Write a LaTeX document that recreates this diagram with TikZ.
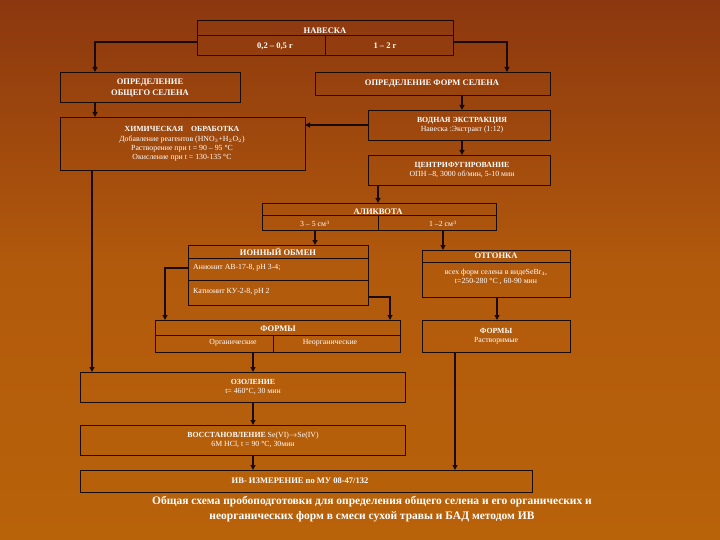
\documentclass[tikz,border=0pt]{standalone}
\usepackage{fontspec}
\setmainfont{Liberation Serif}
\usetikzlibrary{arrows.meta}
\definecolor{ln}{HTML}{1A0A05}
\tikzset{x=1pt,y=-1pt,
 box/.style={draw=ln,line width=0.9pt},
 arr/.style={draw=ln,line width=1.1pt,-{Triangle[length=5pt,width=5pt]}},
 ln/.style={draw=ln,line width=0.9pt},
 tb/.style={text=white,font=\bfseries\fontsize{8.5}{9.5}\selectfont,inner sep=0pt},
 tn/.style={text=white,font=\fontsize{7.8}{9.2}\selectfont,inner sep=0pt,align=center},
}
\begin{document}
\begin{tikzpicture}
\shade[top color={rgb,255:red,140;green,55;blue,15},bottom color={rgb,255:red,184;green,98;blue,10},middle color={rgb,255:red,178;green,90;blue,12}] (0,0) rectangle (720,540);
\useasboundingbox (0,0) rectangle (720,540);
% НАВЕСКА
\draw[box] (197,20) rectangle (453,55);
\draw[ln] (197,35)--(453,35) (325,35)--(325,55);
\node[tb] (nav) at (325,31) {НАВЕСКА};
\node[tb] (n1) at (275,46) {0,2 – 0,5 г};
\node[tb] (n2) at (385,46) {1 – 2 г};
% level 2
\draw[box] (60,72) rectangle (240,102);
\node[tb,align=center] (obsh) at (150,88) {ОПРЕДЕЛЕНИЕ\\[2pt]ОБЩЕГО СЕЛЕНА};
\draw[box] (315,72) rectangle (550,95);
\node[tb] (form) at (432,84) {ОПРЕДЕЛЕНИЕ ФОРМ СЕЛЕНА};
\coordinate (a1) at (197,42); \coordinate (a2) at (95,72);
\draw[arr] (a1) -| (a2);
\coordinate (b1) at (453,42); \coordinate (b2) at (507,72);
\draw[arr] (b1) -| (b2);
% ХИМ
\draw[box] (60,117) rectangle (305,170);
\node[tn] (him) at (182,144) {\textbf{ХИМИЧЕСКАЯ \ \ \ ОБРАБОТКА}\\Добавление реагентов (HNO$_3$+H$_2$O$_2$)\\Растворение при t = 90 – 95 °С\\Окисление при t = 130-135 °С};
\draw[arr] (95,102)--(95,117);
% ВОДНАЯ
\draw[box] (368,110) rectangle (550,140);
\node[tn] (vod) at (462,125) {\textbf{ВОДНАЯ ЭКСТРАКЦИЯ}\\Навеска :Экстракт (1:12)};
\draw[arr] (368,125)--(305,125);
\draw[arr] (462,95)--(462,110);
\draw[box] (368,155) rectangle (550,185);
\node[tn] (cen) at (462,170) {\textbf{ЦЕНТРИФУГИРОВАНИЕ}\\ОПН –8, 3000 об/мин, 5-10 мин};
\draw[arr] (462,140)--(462,155);
% АЛИКВОТА
\draw[box] (262,203) rectangle (496,230);
\draw[ln] (262,215)--(496,215) (378,215)--(378,230);
\node[tb] (al) at (378,212) {АЛИКВОТА};
\node[tn] at (315,224) {3 – 5 см$^3$};
\node[tn] at (443,224) {1 –2 см$^3$};
\draw[arr] (378,185)--(378,203);
% ИОННЫЙ
\draw[box] (188,245) rectangle (368,305);
\draw[ln] (188,258)--(368,258) (188,280)--(368,280);
\node[tb] (ion) at (278,252) {ИОННЫЙ ОБМЕН};
\node[tn,anchor=west] at (193,268) {Анионит АВ-17-8, рН 3-4;};
\node[tn,anchor=west] at (193,292) {Катионит КУ-2-8, рН 2};
\draw[arr] (315,230)--(315,245);
% ОТГОНКА
\draw[box] (422,250) rectangle (570,297);
\draw[ln] (422,262)--(570,262);
\node[tb] (otg) at (496,256) {ОТГОНКА};
\node[tn] at (496,277) {всех форм селена в видеSeBr$_4$,\\t=250-280 °С , 60-90 мин};
\draw[arr] (443,230)--(443,250);
% ФОРМЫ
\draw[box] (155,320) rectangle (400,352);
\draw[ln] (155,335)--(400,335) (273,335)--(273,352);
\node[tb] (f1) at (278,329) {ФОРМЫ};
\node[tn] at (233,343) {Органические};
\node[tn] at (330,343) {Неорганические};
\draw[arr] (188,268)-|(165,320);
\draw[arr] (368,297)-|(390,320);
\draw[box] (422,320) rectangle (570,352);
\node[tn] (f2) at (496,336) {\textbf{ФОРМЫ}\\Растворимые};
\draw[arr] (497,297)--(497,320);
% ОЗОЛЕНИЕ
\draw[box] (80,372) rectangle (405,402);
\node[tn] (ozo) at (253,387) {\textbf{ОЗОЛЕНИЕ}\\t= 460°С, 30 мин};
\draw[arr] (92,170)--(92,372);
\draw[arr] (253,352)--(253,372);
\draw[box] (80,425) rectangle (405,455);
\node[tn] (vos) at (253,440) {\textbf{ВОССТАНОВЛЕНИЕ} Se(VI)$\rightarrow$Se(IV)\\6M HCl, t = 90 °С, 30мин};
\draw[arr] (253,402)--(253,425);
\draw[box] (80,470) rectangle (532,492);
\node[tb] (iv) at (300,481) {ИВ- ИЗМЕРЕНИЕ по МУ 08-47/132};
\draw[arr] (253,455)--(253,470);
\draw[arr] (455,352)--(455,470);
\node[text=white,font=\bfseries\fontsize{11.5}{15}\selectfont,align=center] (cap) at (372,509) {Общая схема пробоподготовки для определения общего селена и его органических и\\неорганических форм в смеси сухой травы и БАД методом ИВ};
\end{tikzpicture}
\end{document}
